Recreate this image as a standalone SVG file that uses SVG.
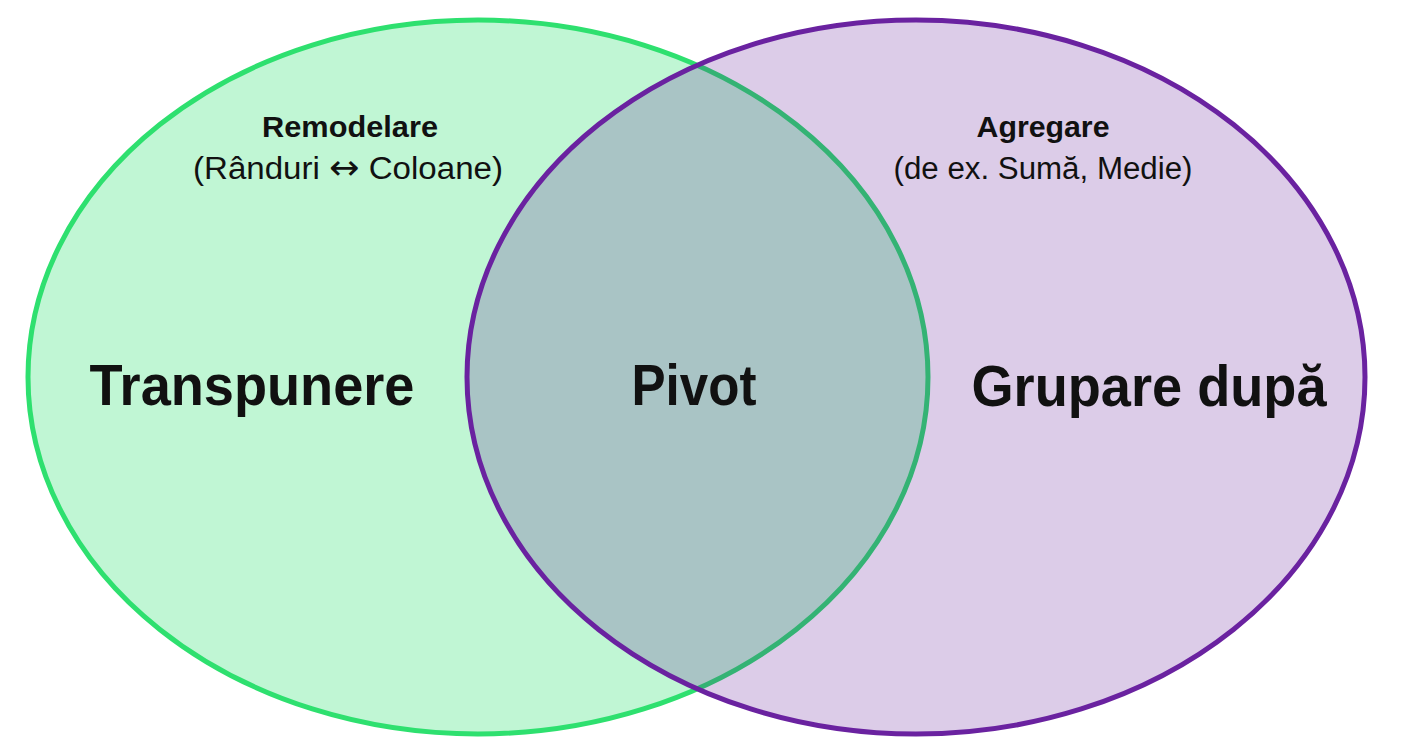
<svg xmlns="http://www.w3.org/2000/svg" width="1405" height="752" viewBox="0 0 1405 752">
  <style>
    .big { font-family: "Liberation Sans", Arial, sans-serif; font-weight: bold; font-size: 57px; fill: #111; text-anchor: middle; }
    .head { font-family: "Liberation Sans", Arial, sans-serif; font-weight: bold; font-size: 30px; fill: #111; text-anchor: middle; }
    .sub { font-family: "Liberation Sans", Arial, sans-serif; font-size: 31px; fill: #111; text-anchor: middle; }
    .arr { font-family: "DejaVu Sans", sans-serif; font-size: 34px; }
  </style>
  <rect width="1405" height="752" fill="#ffffff"/>
  <g id="set-transpunere">
    <ellipse cx="478" cy="377" rx="450" ry="357" fill="#2ee06f" fill-opacity="0.3" stroke="#2ee06f" stroke-width="5"/>
  </g>
  <g id="set-grupare">
    <ellipse cx="916" cy="377" rx="449" ry="357" fill="#50008a" fill-opacity="0.2" stroke="#6a22a0" stroke-width="5"/>
  </g>
  <g id="labels">
    <text class="head" x="350" y="137" textLength="176" lengthAdjust="spacingAndGlyphs">Remodelare</text>
    <text class="sub" x="348" y="179" textLength="310" lengthAdjust="spacingAndGlyphs">(Rânduri <tspan class="arr">↔</tspan> Coloane)</text>
    <text class="head" x="1043" y="137" textLength="133" lengthAdjust="spacingAndGlyphs">Agregare</text>
    <text class="sub" x="1043" y="179" textLength="299" lengthAdjust="spacingAndGlyphs">(de ex. Sumă, Medie)</text>
    <text class="big" x="252" y="405" textLength="325" lengthAdjust="spacingAndGlyphs">Transpunere</text>
    <text class="big" x="694" y="405" textLength="125" lengthAdjust="spacingAndGlyphs">Pivot</text>
    <text class="big" x="1149" y="406" textLength="355" lengthAdjust="spacingAndGlyphs">Grupare după</text>
  </g>
</svg>
